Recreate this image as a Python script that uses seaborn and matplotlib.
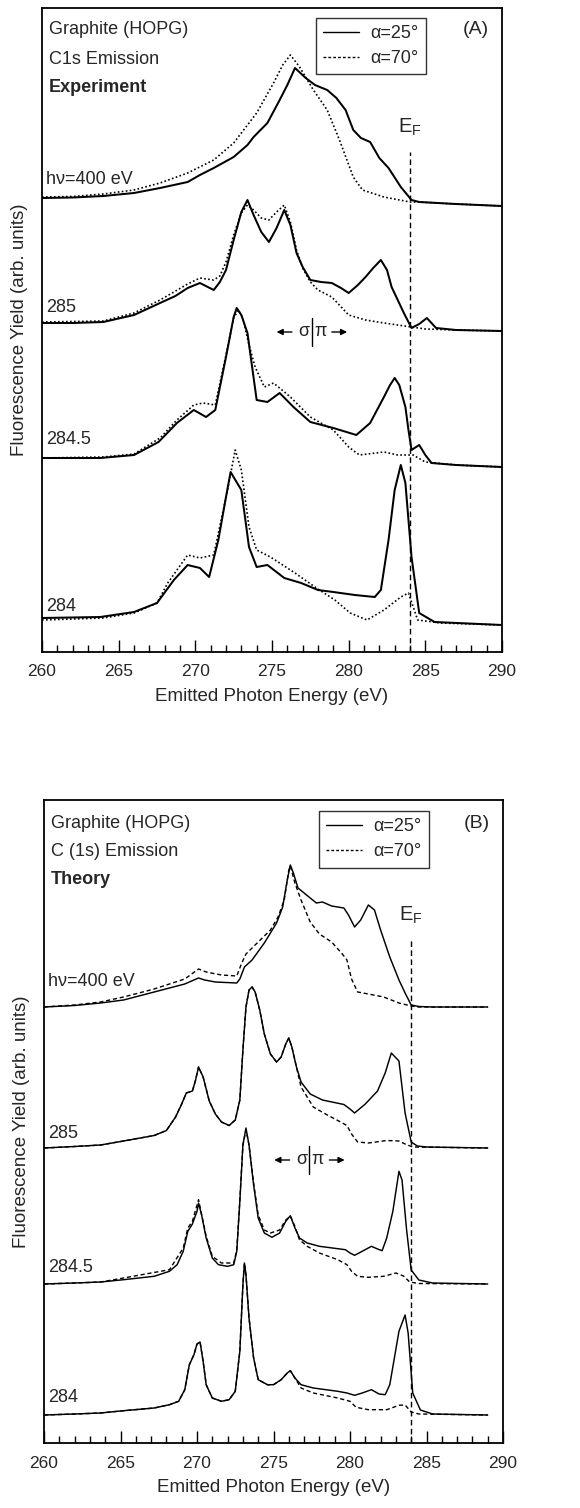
import numpy as np
import pandas as pd
import matplotlib
matplotlib.use("Agg")
import matplotlib.pyplot as plt
from matplotlib.ticker import MultipleLocator
from matplotlib.lines import Line2D
import seaborn as sns

sns.set_style("ticks")
plt.rcParams['font.family'] = ['Liberation Sans', 'DejaVu Sans']
plt.rcParams['mathtext.fontset'] = 'custom'
plt.rcParams['mathtext.rm'] = 'Liberation Sans'
plt.rcParams['mathtext.it'] = 'Liberation Sans:italic'
plt.rcParams['font.size'] = 13

# ---------------- (A) experiment ----------------
# excitation energies, stacked from top to bottom
exp_labels = ["h\u03bd=400 eV", "285", "284.5", "284"]
exp_offsets = [454, 329, 194, 34]

exp400_e25 = [260, 262, 264, 266, 267.7, 269.5, 270.3, 271.2, 272.5, 273.4, 273.8, 274.7, 275.5, 276.0,
              276.5, 277.2, 277.8, 278.6, 279.2, 279.8, 280.3, 280.8, 281.4, 282.0, 282.6, 283.4, 284.1,
              284.6, 287, 290]
exp400_i25 = [0, 0.5, 2, 5, 10, 16, 23, 30, 41, 53, 61, 75, 98, 113,
              130, 120, 113, 108, 100, 88, 68, 60, 56, 40, 30, 11, -2,
              -4, -6, -8]
exp400_e70 = [260, 262, 264, 266, 267.7, 269.5, 271.2, 272.5, 274.0, 275.1, 275.7, 276.2, 276.8, 277.7,
              278.6, 279.4, 280.3, 280.9, 282.3, 284.0, 284.6, 287, 290]
exp400_i70 = [1, 1.5, 4, 8, 15, 25, 38, 55, 85, 115, 133, 143, 131, 108,
              88, 58, 21, 8, 1, -4, -4, -6, -8]

exp285_e25 = [260, 262, 264, 266, 267.7, 268.7, 269.5, 270.3, 271.2, 271.6, 272.0, 272.5, 273.0, 273.4,
              273.8, 274.3, 274.8, 275.3, 275.8, 276.2, 276.6, 277.0, 277.5, 278.2, 278.9, 279.5, 280.0,
              280.6, 281.1, 281.6, 282.1, 282.5, 282.8, 283.2, 283.6, 284.1, 284.6, 285.1, 285.7, 287, 290]
exp285_i25 = [0, 0, 1, 8, 20, 27, 35, 40, 33, 41, 53, 83, 111, 123,
              108, 91, 81, 95, 113, 98, 70, 56, 43, 41, 40, 35, 30,
              38, 46, 55, 63, 53, 36, 23, 10, -5, -1, 5, -5, -7, -8]
exp285_e70 = [260, 264, 266, 267.7, 269.5, 270.3, 271.2, 271.6, 272.0, 272.5, 273.0, 273.4, 273.8, 274.3,
              274.8, 275.3, 275.8, 276.2, 276.6, 277.0, 277.5, 278.0, 278.9, 280.0, 281.1, 282.3, 283.2,
              284.1, 285, 287, 290]
exp285_i70 = [1, 2, 10, 23, 39, 45, 43, 47, 61, 88, 110, 118, 113, 105,
              103, 111, 118, 101, 73, 55, 41, 33, 26, 8, 3, 0, -2,
              -4, -6, -7, -8]

exp2845_e25 = [260, 263.8, 266.0, 267.6, 268.8, 269.9, 270.7, 271.3, 272.0, 272.5, 272.7, 273.0, 273.4,
               274.0, 274.7, 275.5, 276.4, 277.5, 279.0, 280.5, 281.4, 282.3, 282.7, 283.0, 283.3, 283.7,
               283.9, 284.1, 284.3, 284.6, 285.0, 285.4, 287, 290]
exp2845_i25 = [0, 0, 3, 16, 35, 48, 41, 48, 101, 141, 150, 143, 125,
               58, 56, 65, 51, 36, 30, 23, 35, 61, 73, 80, 73, 51,
               28, 8, 10, 13, 3, -5, -7, -9]
exp2845_e70 = [260, 264, 266, 267.7, 268.8, 269.9, 270.5, 271.3, 272.0, 272.5, 272.8, 273.1, 273.5, 273.9,
               274.5, 275.1, 276.2, 277.5, 279.0, 280.0, 280.7, 282.3, 283.2, 284.2, 285, 287, 290]
exp2845_i70 = [0, 1, 4, 20, 38, 53, 55, 53, 103, 140, 148, 140, 113, 91,
               71, 75, 61, 41, 28, 11, 3, 6, 3, 3, -4, -7, -9]

exp284_e25 = [260, 263.8, 266.0, 267.5, 268.6, 269.5, 270.3, 270.9, 271.5, 272.0, 272.3, 273.0, 273.5,
              274.0, 274.7, 275.8, 276.9, 278.0, 279.0, 280.4, 281.7, 282.1, 282.6, 283.0, 283.4, 283.7,
              284.1, 284.6, 285.6, 290]
exp284_i25 = [0, 1, 6, 15, 38, 53, 50, 41, 78, 121, 146, 128, 71,
              51, 53, 40, 35, 28, 26, 23, 21, 28, 78, 128, 153, 135,
              61, 5, -4, -7]
exp284_e70 = [260, 264, 266, 267.5, 268.2, 269.5, 270.3, 271.2, 272.1, 272.6, 273.0, 273.5, 274.0, 274.9,
              276.5, 277.8, 279.1, 280.1, 281.2, 282.3, 283.4, 283.9, 284.5, 286, 290]
exp284_i70 = [-2, 0, 5, 15, 35, 63, 60, 63, 128, 168, 148, 91, 68, 61,
              45, 31, 18, 5, -2, 8, 21, 25, -2, -5, -7]

# ---------------- (B) theory ----------------
th_labels = ["h\u03bd=400 eV", "285", "284.5", "284"]
th_offsets = [436, 295, 159, 28]

th400_e25 = [260, 262, 263.7, 265.2, 267.2, 269.2, 269.8, 270.1, 270.5, 271.2,
             272.6, 272.8, 273.1, 273.6, 274.4, 275.2, 275.6, 275.9, 276.1, 276.3,
             276.6, 277.0, 277.8, 278.2, 278.8, 279.6, 279.9, 280.3, 280.7, 281.2,
             281.6, 282.0, 282.6, 283.2, 283.6, 284.0, 284.5, 285.4, 289]
th400_i25 = [0, 1.5, 4, 7, 15, 23, 27, 29, 27, 25,
             24, 28, 40, 47, 64, 84, 100, 127, 142, 134,
             119, 114, 104, 105, 101, 99, 92, 80, 87, 102,
             97, 77, 50, 27, 14, 2, 0.5, 0, 0]
th400_e70 = [260, 262, 263.7, 265.2, 267.2, 269.2, 270.1, 270.6, 271.6, 272.6,
             272.9, 273.2, 274.0, 274.8, 275.3, 275.7, 276.0, 276.1, 276.4, 276.8,
             277.4, 278.0, 278.8, 279.5, 279.8, 280.1, 280.5, 281.2, 282.2, 283.2,
             284.0, 284.5, 289]
th400_i70 = [0, 2, 5, 10, 18, 28, 38, 35, 32, 31,
             43, 53, 65, 77, 90, 107, 137, 141, 124, 107,
             85, 73, 65, 53, 47, 28, 15, 13, 10, 4,
             1, 0, 0]

th285_e25 = [260, 262, 263.7, 265.2, 267.2, 268.0, 268.6, 269.0, 269.3, 269.7,
             269.9, 270.1, 270.4, 270.8, 271.2, 271.6, 272.1, 272.5, 272.8, 273.0,
             273.2, 273.4, 273.6, 273.8, 274.1, 274.4, 274.8, 275.2, 275.5, 275.8,
             276.0, 276.2, 276.5, 276.8, 277.4, 278.2, 279.6, 280.0, 280.3, 281.0,
             281.8, 282.3, 282.7, 283.2, 283.6, 284.0, 284.4, 285.0, 289]
th285_i25 = [0, 1.5, 3, 7, 12.5, 17.5, 31, 44, 55, 57,
             67.5, 81, 71, 47, 34, 26, 22.5, 28, 48, 98,
             141, 158, 161, 156, 138, 114, 94, 86, 91, 104,
             110, 101, 81, 66, 54, 48, 43.5, 39, 35, 44,
             57, 75, 95, 87, 35, 6, 2, 1, 0]
th285_e70 = [260, 262, 263.7, 265.2, 267.2, 268.0, 268.6, 269.0, 269.3, 269.7,
             269.9, 270.1, 270.4, 270.8, 271.2, 271.6, 272.1, 272.5, 272.8, 273.0,
             273.2, 273.4, 273.6, 273.8, 274.1, 274.4, 274.8, 275.2, 275.5, 275.8,
             276.0, 276.2, 276.5, 276.8, 277.6, 278.4, 279.2, 279.8, 280.1, 280.5,
             281.2, 282.4, 283.2, 283.6, 284.1, 289]
th285_i70 = [0, 1.5, 3, 7, 12.5, 17.5, 31, 44, 55, 57,
             67.5, 81, 71, 47, 34, 26, 22.5, 28, 48, 98,
             141, 158, 161, 156, 138, 114, 94, 86, 91, 104,
             110, 101, 81, 61, 41, 34, 27.5, 22.5, 14, 6,
             5, 7.5, 7, 4, 1, 0]

th2845_e25 = [260, 262, 263.7, 265.2, 267.2, 268.2, 268.7, 269.1, 269.4, 269.7,
              270.0, 270.1, 270.3, 270.6, 271.0, 271.4, 272.0, 272.4, 272.6, 272.8,
              273.0, 273.2, 273.4, 273.7, 274.0, 274.4, 274.9, 275.4, 275.8, 276.1,
              276.4, 276.7, 277.2, 278.0, 279.2, 279.7, 280.0, 280.3, 280.8, 281.4,
              281.8, 282.1, 282.4, 282.8, 283.2, 283.4, 283.7, 284.0, 284.5, 285.4,
              289]
th2845_i25 = [0, 1, 2, 4.3, 7.7, 12.7, 19.3, 32.7, 52.7, 60,
              72.7, 81, 69, 46, 26, 19.3, 17.7, 19.3, 32.7, 82.7,
              139, 156, 139, 99, 66, 51, 46.7, 51, 62.7, 68.3,
              56, 46, 41, 37.7, 35.3, 34.3, 31, 28.7, 32.7, 37.7,
              35, 33.3, 46, 72.7, 112.7, 104, 54, 14, 4, 1,
              0]
th2845_e70 = [260, 262, 263.7, 265.2, 268.2, 269.1, 269.4, 269.7, 270.1, 270.6,
              271.0, 271.6, 272.4, 272.6, 272.8, 273.0, 273.2, 273.4, 273.7, 274.0,
              274.4, 274.8, 275.4, 275.8, 276.1, 276.4, 276.7, 277.2, 278.0, 279.2,
              279.8, 280.1, 280.5, 281.2, 282.2, 283.0, 283.5, 283.9, 284.5, 289]
th2845_i70 = [0, 1, 2, 6, 14.3, 36, 56, 62.7, 84.3, 47.7,
              27.7, 21, 21, 34, 84, 139, 154, 139, 101, 69,
              54, 51, 54, 64, 67.7, 57.7, 44.3, 37.7, 31, 24.3,
              19.3, 12.7, 7.7, 6.7, 7.7, 11, 8, 2, 0.5, 0]

th284_e25 = [260, 262, 263.7, 265.2, 267.2, 268.2, 268.8, 269.2, 269.5, 269.8,
             270.0, 270.2, 270.4, 270.6, 271.0, 271.6, 272.1, 272.5, 272.8, 273.0,
             273.1, 273.2, 273.4, 273.7, 274.0, 274.6, 275.0, 275.5, 275.9, 276.1,
             276.4, 276.8, 277.6, 279.2, 279.8, 280.3, 280.8, 281.4, 281.9, 282.3,
             282.6, 282.9, 283.2, 283.6, 283.8, 284.1, 284.6, 285.4, 289]
th284_i25 = [0, 1, 2, 4.3, 7, 10.3, 13.7, 25.3, 50.3, 60.3,
             71, 73, 53.7, 30.3, 17, 13.7, 15.3, 23.7, 63.7, 130.3,
             152, 140.3, 97, 57, 35.3, 30.3, 30.3, 35.3, 42, 44.3,
             37, 30.3, 27, 23.7, 22, 19.7, 22, 25.3, 21, 20.3,
             30.3, 57, 83.7, 100, 82, 22, 5, 1, 0]
th284_e70 = [260, 262, 263.7, 265.2, 267.2, 268.2, 268.8, 269.2, 269.5, 269.8,
             270.0, 270.2, 270.4, 270.6, 271.0, 271.6, 272.1, 272.5, 272.8, 273.0,
             273.1, 273.2, 273.4, 273.7, 274.0, 274.6, 275.0, 275.5, 275.9, 276.1,
             276.4, 276.8, 277.6, 279.2, 280.0, 280.4, 281.2, 282.4, 283.2, 283.6,
             284.0, 284.5, 289]
th284_i70 = [0, 1, 2, 4.3, 7, 10.3, 13.7, 25.3, 50.3, 60.3,
             71, 73, 53.7, 30.3, 17, 13.7, 15.3, 23.7, 63.7, 130.3,
             152, 140.3, 97, 57, 35.3, 30.3, 30.3, 35.3, 42, 44.3,
             37, 27, 22, 17, 13.7, 7.7, 5.3, 5.3, 9.7, 10,
             3, 1, 0]

exp_curves = [(exp400_e25, exp400_i25, exp400_e70, exp400_i70),
              (exp285_e25, exp285_i25, exp285_e70, exp285_i70),
              (exp2845_e25, exp2845_i25, exp2845_e70, exp2845_i70),
              (exp284_e25, exp284_i25, exp284_e70, exp284_i70)]
th_curves = [(th400_e25, th400_i25, th400_e70, th400_i70),
             (th285_e25, th285_i25, th285_e70, th285_i70),
             (th2845_e25, th2845_i25, th2845_e70, th2845_i70),
             (th284_e25, th284_i25, th284_e70, th284_i70)]

fermi = 284.0

W, H = 580, 1508
fig = plt.figure(figsize=(W / 100, H / 100), dpi=100)


def px_axes(left, top, right, bottom):
    return fig.add_axes([left / W, 1 - bottom / H, (right - left) / W, (bottom - top) / H])


def curve(ax, e, i, off, **kw):
    df = pd.DataFrame({"E": e, "I": np.array(i, dtype=float) + off})
    sns.lineplot(data=df, x="E", y="I", ax=ax, color="k", sort=False, estimator=None, **kw)


def panel(ax, curves, offsets, labels, ysize, solid_lw, dot_lw, dot_style, title_lines, title_y, tag,
          lab_y, ef_y, sp_x, sp_y, leg_anchor):
    for (e25, i25, e70, i70), off in zip(curves, offsets):
        curve(ax, e70, i70, off, lw=dot_lw, linestyle=dot_style)
        curve(ax, e25, i25, off, lw=solid_lw, linestyle="-")
    for lab, ly in zip(labels, lab_y):
        ax.text(260.25, ly, lab, fontsize=13, ha="left", va="center")
    ax.set_xlim(260, 290)
    ax.set_ylim(0, ysize)
    ax.set_yticks([])
    ax.xaxis.set_major_locator(MultipleLocator(5))
    ax.xaxis.set_minor_locator(MultipleLocator(1))
    ax.tick_params(axis="x", which="major", direction="in", length=8.5, width=1.0,
                   labelsize=12.5, pad=9, top=False, color="k")
    ax.tick_params(axis="x", which="minor", direction="in", length=5, width=1.0, top=False, color="k")
    for s in ax.spines.values():
        s.set_visible(True)
        s.set_linewidth(1.3)
        s.set_color("k")
    ax.set_xlabel("Emitted Photon Energy (eV)", fontsize=13.5, labelpad=6)
    ax.set_ylabel("Fluorescence Yield (arb. units)", fontsize=13.5, labelpad=10)
    # title block
    for k, (t, ty) in enumerate(zip(title_lines, title_y)):
        ax.text(260.45, ty, t, ha="left", va="center", fontsize=13,
                fontweight="bold" if k == 2 else "normal")
    ax.text(288.3, title_y[0], tag, ha="center", va="center", fontsize=14)
    # Fermi level
    ax.plot([fermi, fermi], [0, ef_y - 25], color="k", lw=1.0, linestyle=(0, (4, 2.5)))
    ax.text(fermi, ef_y, r"E$_\mathregular{F}$", ha="center", va="center", fontsize=14.5)
    # sigma | pi
    ax.plot([sp_x, sp_x], [sp_y - 14, sp_y + 14], color="k", lw=1.0)
    ax.text(sp_x - 0.15, sp_y, "\u03c3", ha="right", va="center", fontsize=13)
    ax.text(sp_x + 0.15, sp_y, "\u03c0", ha="left", va="center", fontsize=13)
    ax.annotate("", xy=(sp_x - 2.3, sp_y), xytext=(sp_x - 1.3, sp_y),
                arrowprops=dict(arrowstyle="-|>", color="k", lw=1.0, mutation_scale=9,
                                shrinkA=0, shrinkB=0))
    ax.annotate("", xy=(sp_x + 2.3, sp_y), xytext=(sp_x + 1.3, sp_y),
                arrowprops=dict(arrowstyle="-|>", color="k", lw=1.0, mutation_scale=9,
                                shrinkA=0, shrinkB=0))
    handles = [Line2D([], [], color="k", lw=1.0, linestyle="-"),
               Line2D([], [], color="k", lw=1.0, linestyle=(0, (2, 1.5)))]
    leg = ax.legend(handles, ["\u03b1=25\u00b0", "\u03b1=70\u00b0"], loc="upper left",
                    bbox_to_anchor=leg_anchor, frameon=True, fancybox=False, fontsize=13,
                    handlelength=2.0, handletextpad=0.6, borderpad=0.4, labelspacing=0.45,
                    borderaxespad=0)
    leg.get_frame().set_edgecolor("k")
    leg.get_frame().set_linewidth(1.0)


axA = px_axes(42, 8, 502, 652)
panel(axA, exp_curves, exp_offsets, exp_labels, 644, 1.45, 1.2, (0, (1, 1.4)),
      ["Graphite (HOPG)", "C1s Emission", "Experiment"], [622, 592, 565], "(A)",
      [472, 344, 212, 45], 525, 277.6, 320, (0.596, 0.985))

axB = px_axes(44, 800, 503, 1443)
panel(axB, th_curves, th_offsets, th_labels, 643, 1.05, 1.0, (0, (3, 2)),
      ["Graphite (HOPG)", "C (1s) Emission", "Theory"], [619, 591, 564], "(B)",
      [461, 310, 176, 45], 528, 277.35, 283, (0.599, 0.983))

fig.savefig("out.png", dpi=100)
